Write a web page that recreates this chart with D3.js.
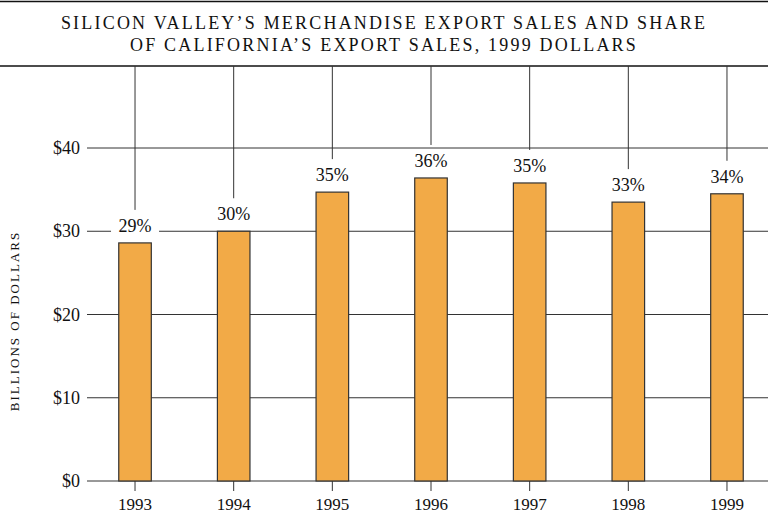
<!DOCTYPE html>
<html>
<head>
<meta charset="utf-8">
<script src="https://cdn.jsdelivr.net/npm/d3@7"></script>
<style>
  body { margin: 0; background: #fff; }
  svg { display: block; }
  svg text { font-family: "Liberation Serif", "DejaVu Serif", serif; }
</style>
</head>
<body>
<div id="chart"></div>
<script>
// data
const years = ["1993", "1994", "1995", "1996", "1997", "1998", "1999"];
const exportSales = [28.6, 30.0, 34.7, 36.4, 35.8, 33.5, 34.5];
const shareLabels = ["29%", "30%", "35%", "36%", "35%", "33%", "34%"];
const yTicks = [0, 10, 20, 30, 40];
const titleLines = [
  "SILICON VALLEY\u2019S MERCHANDISE EXPORT SALES AND SHARE",
  "OF CALIFORNIA\u2019S EXPORT SALES, 1999 DOLLARS"
];

const width = 768;
const height = 518;
const ink = "#111";
const serif = "'Liberation Serif', 'DejaVu Serif', serif";

const svg = d3.select("#chart").append("svg")
  .attr("width", width).attr("height", height);

const x = d3.scaleBand()
  .domain(years)
  .range([85.7, 776.3])
  .paddingInner(0.67)
  .paddingOuter(0.335);

const y = d3.scaleLinear().domain([0, 40]).range([481, 148]);

// top rules
svg.append("line").attr("x1", 0).attr("x2", width).attr("y1", 1.5).attr("y2", 1.5)
  .attr("stroke", ink).attr("stroke-width", 1.5);
svg.append("line").attr("x1", 0).attr("x2", width).attr("y1", 66).attr("y2", 66)
  .attr("stroke", ink).attr("stroke-width", 1.5);

// title
svg.append("g").selectAll("text")
  .data(titleLines)
  .enter().append("text")
  .attr("x", width / 2)
  .attr("y", (d, i) => 29 + i * 22)
  .attr("text-anchor", "middle")
  .attr("font-family", serif)
  .attr("font-size", 18)
  .attr("letter-spacing", 2.2)
  .attr("fill", ink)
  .text(d => d);

// gridlines
svg.append("g").selectAll("line")
  .data(yTicks)
  .enter().append("line")
  .attr("x1", 87).attr("x2", width)
  .attr("y1", d => y(d)).attr("y2", d => y(d))
  .attr("stroke", "#333").attr("stroke-width", 1);

// y tick labels
svg.append("g").selectAll("text")
  .data(yTicks)
  .enter().append("text")
  .attr("x", 80)
  .attr("y", d => y(d) + 6)
  .attr("text-anchor", "end")
  .attr("font-family", serif)
  .attr("font-size", 18)
  .attr("fill", ink)
  .text(d => "$" + d);

// y title
svg.append("text")
  .attr("transform", "translate(19,321) rotate(-90)")
  .attr("text-anchor", "middle")
  .attr("font-family", serif)
  .attr("font-size", 13)
  .attr("letter-spacing", 2)
  .attr("fill", ink)
  .text("BILLIONS OF DOLLARS");

const data = years.map((yr, i) => ({ yr, v: exportSales[i], lab: shareLabels[i] }));

// leader lines from top rule to labels
svg.append("g").selectAll("line")
  .data(data)
  .enter().append("line")
  .attr("x1", d => x(d.yr) + x.bandwidth() / 2)
  .attr("x2", d => x(d.yr) + x.bandwidth() / 2)
  .attr("y1", 66)
  .attr("y2", d => y(d.v) - 33)
  .attr("stroke", "#333").attr("stroke-width", 1);

// bars
svg.append("g").selectAll("rect")
  .data(data)
  .enter().append("rect")
  .attr("x", d => x(d.yr))
  .attr("width", x.bandwidth())
  .attr("y", d => y(d.v))
  .attr("height", d => y(0) - y(d.v))
  .attr("fill", "#f2aa47")
  .attr("stroke", "#333").attr("stroke-width", 1.2);

// share labels with white knockout
const labs = svg.append("g").selectAll("g")
  .data(data)
  .enter().append("g")
  .attr("transform", d => "translate(" + (x(d.yr) + x.bandwidth() / 2) + "," + (y(d.v) - 11) + ")");
labs.append("rect")
  .attr("x", -24).attr("width", 48)
  .attr("y", -16).attr("height", 20)
  .attr("fill", "#fff");
labs.append("text")
  .attr("text-anchor", "middle")
  .attr("font-family", serif)
  .attr("font-size", 18)
  .attr("fill", ink)
  .text(d => d.lab);

// x axis ticks and labels
const xAxis = svg.append("g");
xAxis.selectAll("line")
  .data(years)
  .enter().append("line")
  .attr("x1", d => x(d) + x.bandwidth() / 2)
  .attr("x2", d => x(d) + x.bandwidth() / 2)
  .attr("y1", y(0)).attr("y2", y(0) + 10)
  .attr("stroke", "#333");
xAxis.selectAll("text")
  .data(years)
  .enter().append("text")
  .attr("x", d => x(d) + x.bandwidth() / 2)
  .attr("y", 510)
  .attr("text-anchor", "middle")
  .attr("font-family", serif)
  .attr("font-size", 17)
  .attr("fill", ink)
  .text(d => d);
</script>
</body>
</html>
